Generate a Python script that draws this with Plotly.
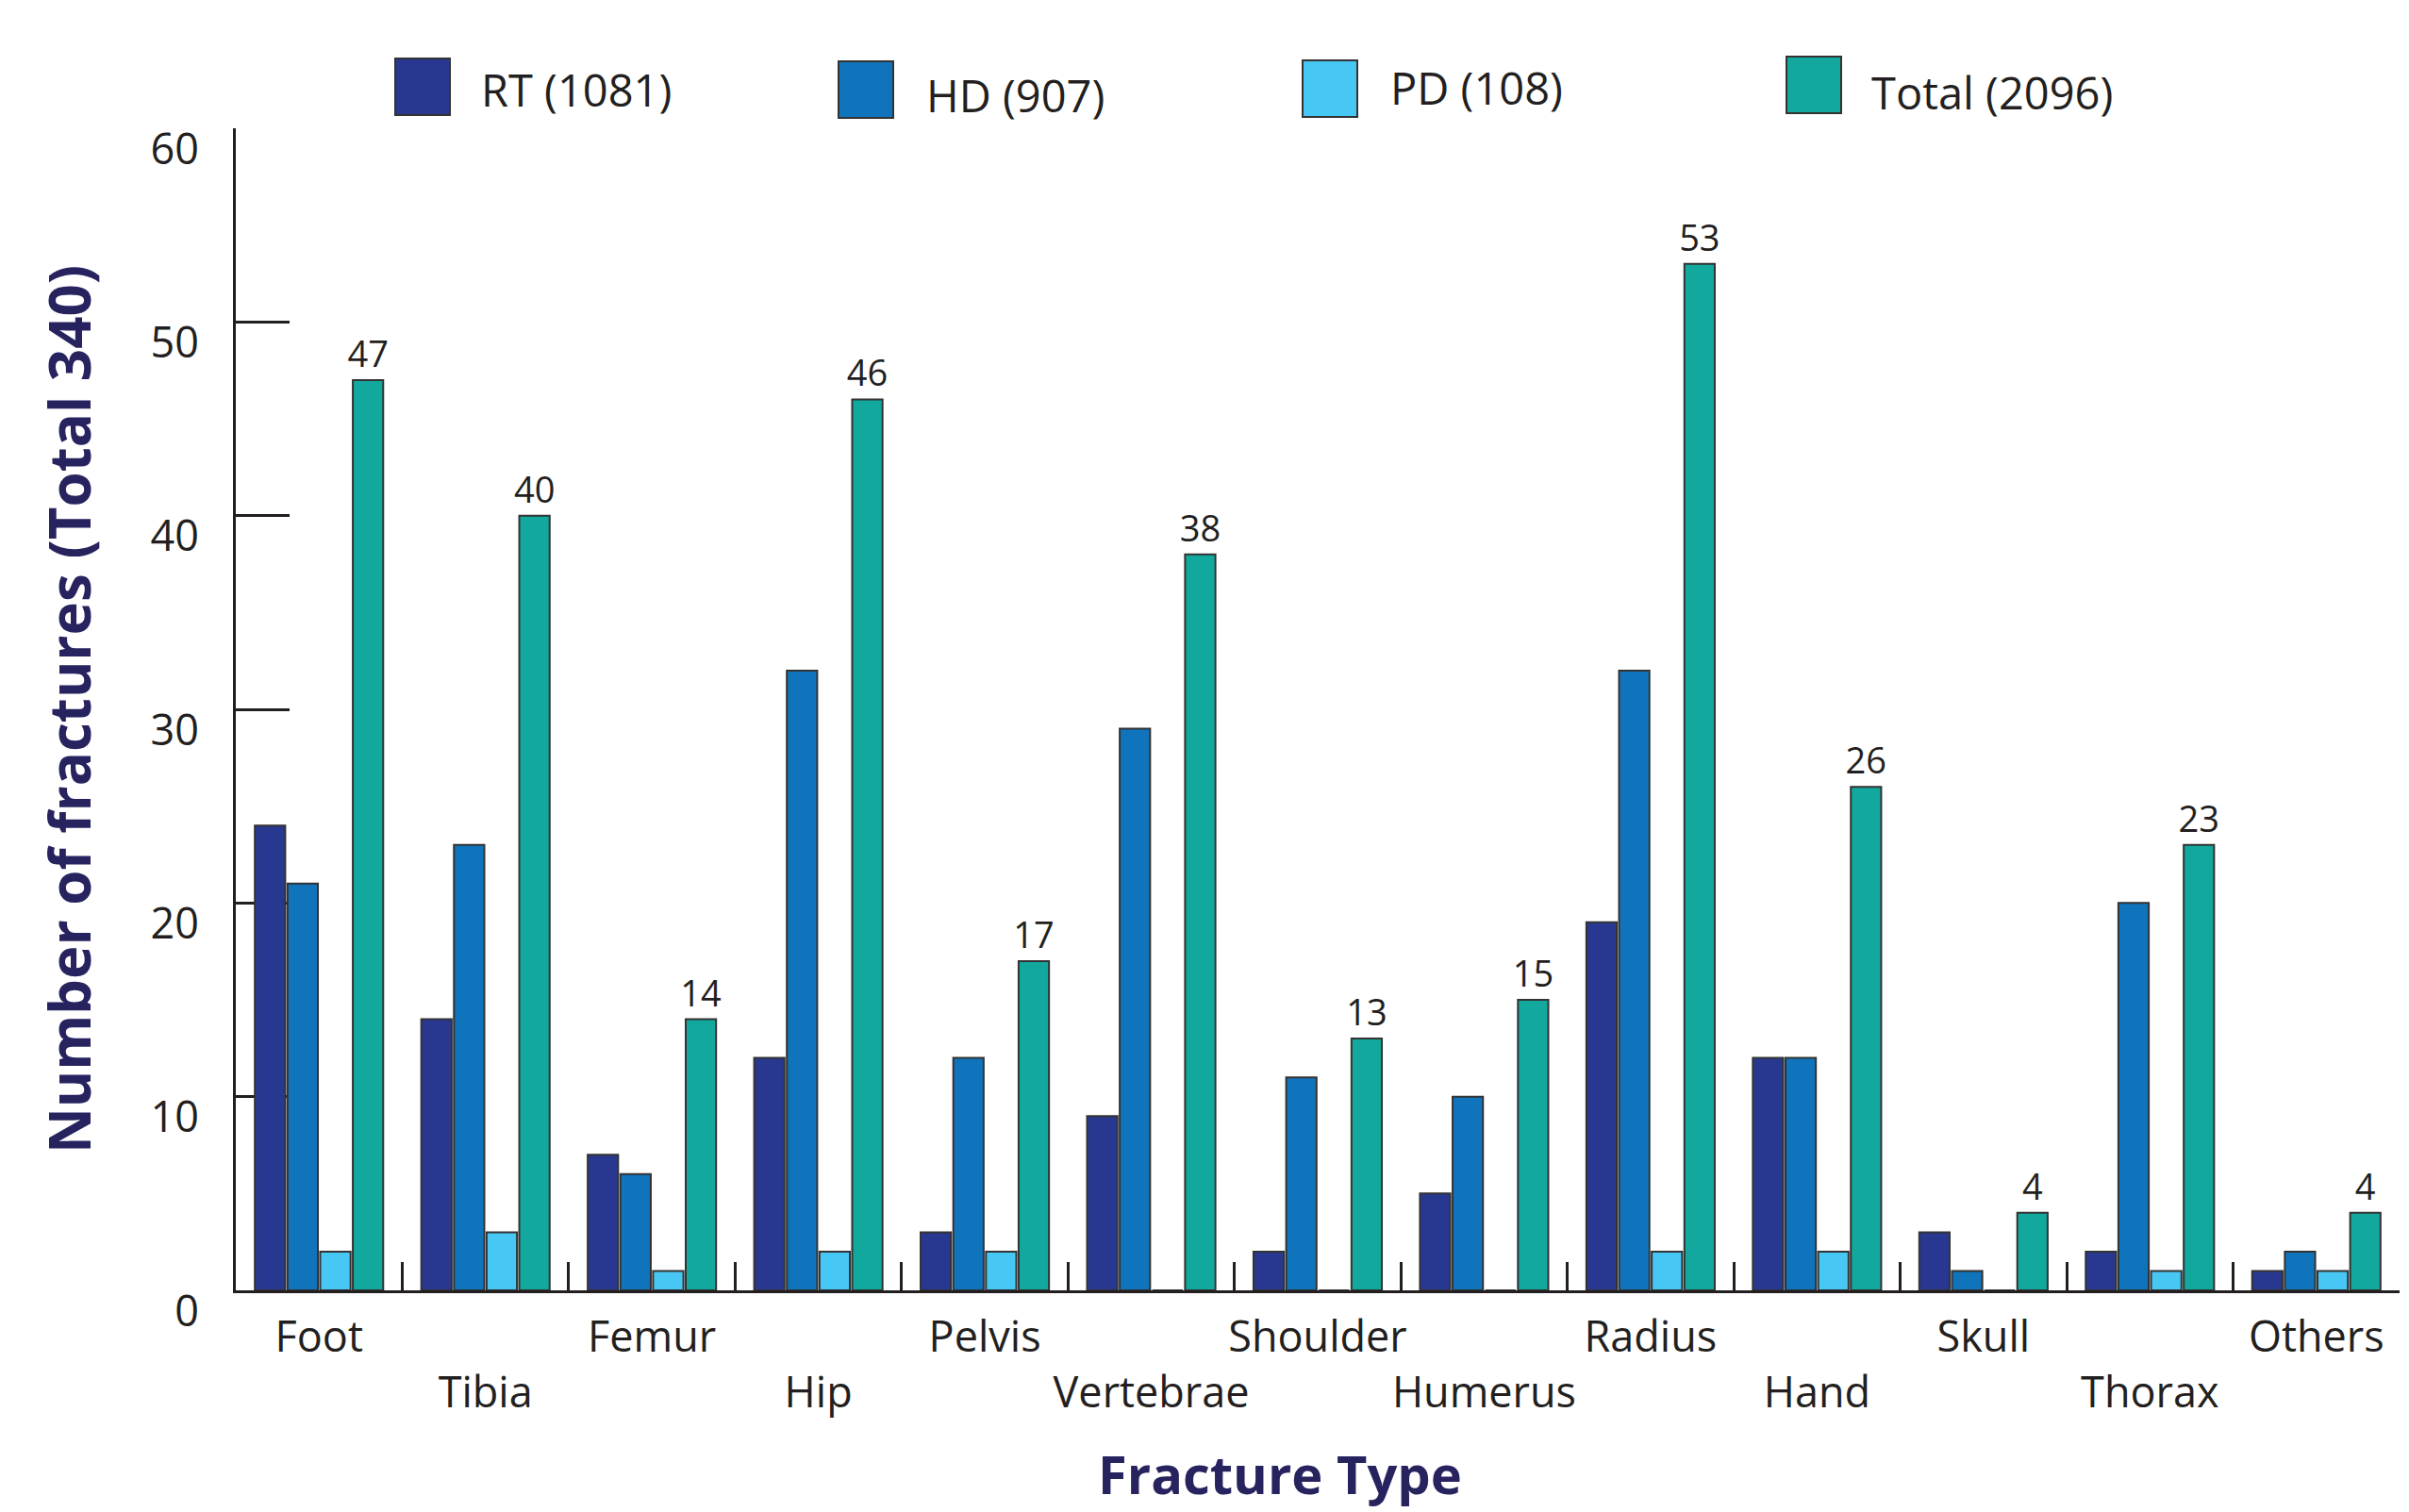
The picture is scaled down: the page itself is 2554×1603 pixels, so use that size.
import plotly.graph_objects as go

# ---- data ----
categories = ["Foot", "Tibia", "Femur", "Hip", "Pelvis", "Vertebrae", "Shoulder",
              "Humerus", "Radius", "Hand", "Skull", "Thorax", "Others"]
rt = [24, 14, 7, 12, 3, 9, 2, 5, 19, 12, 3, 2, 1]
hd = [21, 23, 6, 32, 12, 29, 11, 10, 32, 12, 1, 20, 2]
pd_ = [2, 3, 1, 2, 2, 0, 0, 0, 2, 2, 0, 1, 1]
total = [47, 40, 14, 46, 17, 38, 13, 15, 53, 26, 4, 23, 4]
series_names = ["RT (1081)", "HD (907)", "PD (108)", "Total (2096)"]
y_ticks = [0, 10, 20, 30, 40, 50, 60]
x_title = "Fracture Type"
y_title = "Number of fractures (Total 340)"

# ---- style ----
colors = ["#283891", "#1074BC", "#47C8F4", "#12A89D"]
FONT = "Open Sans"
INK = "#231F20"
TITLE_INK = "#27235F"
OFF = 8  # default page body margin
W, H = 2554 - OFF, 1603 - OFF
# plot area on screen: x 250..2544, y 136..1368
L, T = 250 - OFF, 136 - OFF
R = W - (2544 - OFF)
B = H - (1368 - OFF)

fig = go.Figure()
series = [rt, hd, pd_, total]
for i, (name, vals) in enumerate(zip(series_names, series)):
    is_total = i == 3
    fig.add_trace(go.Bar(
        x=categories, y=vals, name=name,
        marker=dict(color=colors[i], line=dict(color="#333333", width=2)),
        text=[str(v) for v in vals] if is_total else None,
        textposition="outside" if is_total else None,
        textfont=dict(family=FONT, size=38, color=INK),
        constraintext="none",
        cliponaxis=False,
        showlegend=False,
    ))

ticktext = [c if i % 2 == 0 else "<br>" + c for i, c in enumerate(categories)]

fig.update_layout(
    width=W, height=H,
    margin=dict(l=L, r=R, t=T, b=B, autoexpand=False),
    paper_bgcolor="white", plot_bgcolor="white",
    barmode="group", bargap=0.215, bargroupgap=0.07,
    font=dict(family=FONT, color=INK, size=45),
    xaxis=dict(
        tickmode="array", tickvals=categories, ticktext=ticktext, tickangle=0,
        tickson="boundaries", ticks="inside", ticklen=30, tickwidth=3, tickcolor=INK,
        showline=True, linecolor=INK, linewidth=3,
        showgrid=False, zeroline=False, layer="below traces",
        tickfont=dict(family=FONT, size=45, color=INK),
        ticklabelstandoff=8,
        automargin=False,
    ),
    yaxis=dict(
        range=[0, 60], tickmode="array", tickvals=y_ticks,
        ticks="inside", ticklen=57, tickwidth=3, tickcolor=INK,
        showline=True, linecolor=INK, linewidth=3,
        showgrid=False, zeroline=False, layer="below traces",
        tickfont=dict(family=FONT, size=45, color=INK),
        ticklabelshift=22, ticklabelstandoff=27,
        title=dict(text="<b>" + y_title + "</b>", standoff=44,
                   font=dict(family=FONT, size=60, color=TITLE_INK)),
        automargin=False,
    ),
)

# ---- helpers: screen pixel -> paper coords ----
pw, ph = W - L - R, H - T - B
def px(xp):
    return (xp - OFF - L) / pw
def py(yp):
    return (H - B - (yp - OFF)) / ph

# x-axis title (placed slightly left of centre as in the reference)
fig.add_annotation(xref="paper", yref="paper", x=px(1357), y=py(1562),
                   text="<b>" + x_title + "</b>", showarrow=False,
                   xanchor="center", yanchor="middle",
                   font=dict(family=FONT, size=56, color=TITLE_INK))

# ---- custom legend (large square swatches) ----
box_left = [419, 889, 1381, 1894]
box_top = [62, 65, 64, 60]
text_left = [508, 980, 1472, 1982]
text_mid = [95, 101, 93, 98]
for i, name in enumerate(series_names):
    fig.add_shape(type="rect", xref="paper", yref="paper",
                  x0=px(box_left[i]), x1=px(box_left[i] + 58),
                  y0=py(box_top[i] + 60), y1=py(box_top[i]),
                  fillcolor=colors[i], line=dict(color="#333333", width=2))
    fig.add_annotation(xref="paper", yref="paper", x=px(text_left[i]), y=py(text_mid[i]),
                       text=name, showarrow=False, xanchor="left", yanchor="middle",
                       font=dict(family=FONT, size=47, color=INK))

fig.write_html("out.html")
